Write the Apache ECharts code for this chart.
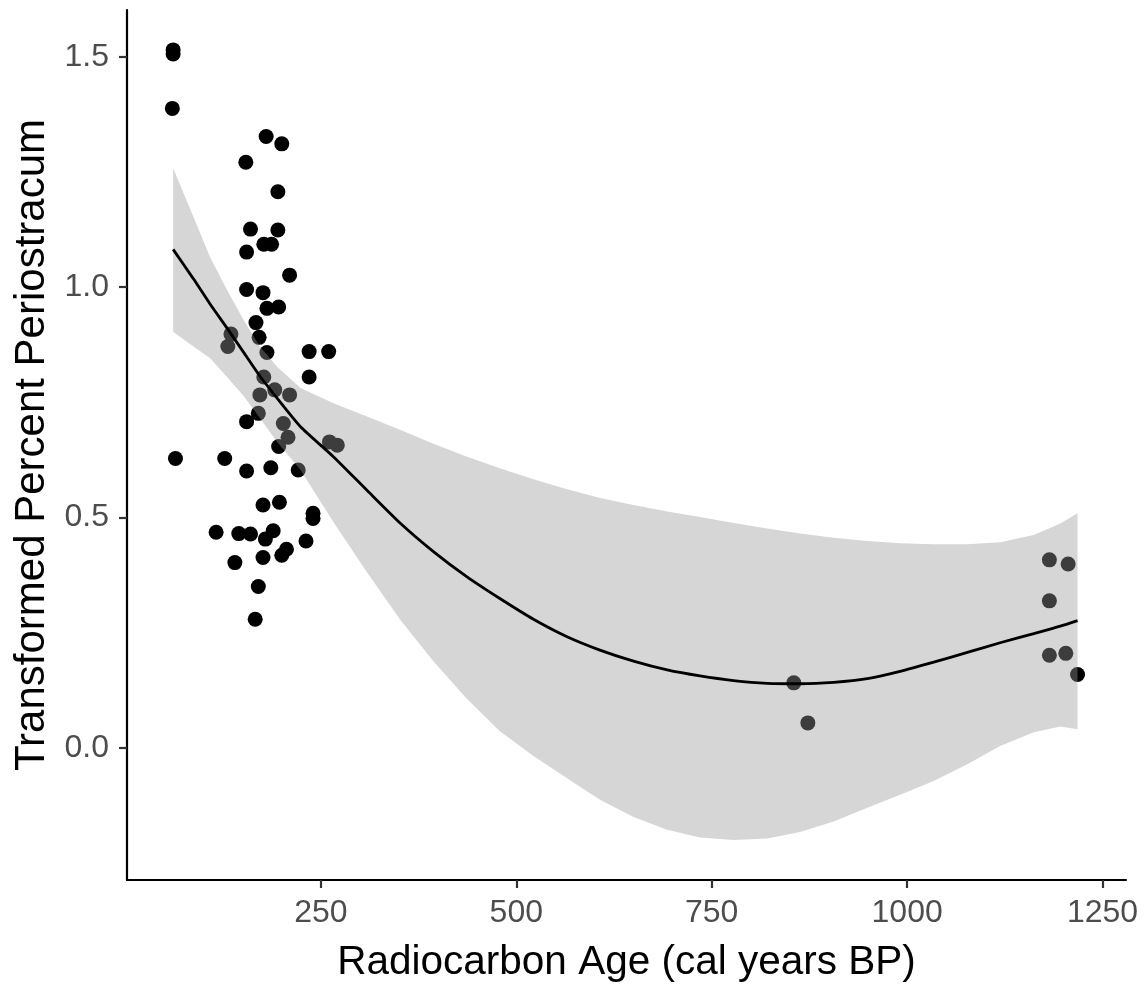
<!DOCTYPE html>
<html>
<head>
<meta charset="utf-8">
<script src="https://cdn.jsdelivr.net/npm/echarts@6/dist/echarts.min.js"></script>
<style>
html,body{margin:0;padding:0;background:#fff;}
#chart{width:1147px;height:985px;}
</style>
</head>
<body>
<div id="chart"></div>
<script>
// Observed points: radiocarbon age (x) and transformed percent periostracum (y)
var pointAge = [61,61,60,64,180,200,154,195,160,195,177,187,155,210,155,176,181,196,167,171,135,131,181,235,260,235,177,172,191,210,170,155,202,208,261,271,196,127,155,186,221,176,197,240,240,116,145,160,189,179,176,231,206,200,140,170,166,1182,1206,1182,1182,1203,1218,855,873];
var pointValue = [1.515,1.506,1.388,0.628,1.327,1.311,1.271,1.207,1.126,1.124,1.093,1.093,1.076,1.026,0.995,0.988,0.954,0.957,0.923,0.891,0.898,0.871,0.858,0.860,0.860,0.805,0.805,0.766,0.777,0.766,0.726,0.708,0.704,0.674,0.664,0.657,0.654,0.628,0.601,0.608,0.603,0.527,0.533,0.509,0.498,0.468,0.465,0.464,0.471,0.453,0.413,0.449,0.431,0.418,0.402,0.350,0.279,0.408,0.399,0.319,0.201,0.205,0.159,0.141,0.054];

// Smooth fit and confidence band, sampled along x
var fitAge = [61,87,108,130,151,172,194,224,266,309,352,394,437,479,522,565,607,650,693,735,778,821,863,906,949,991,1034,1077,1119,1162,1196,1218];
var fitValue = [1.082,1.018,0.964,0.911,0.859,0.807,0.759,0.697,0.632,0.559,0.487,0.426,0.371,0.324,0.279,0.241,0.212,0.188,0.169,0.156,0.146,0.140,0.139,0.142,0.150,0.166,0.186,0.207,0.228,0.248,0.264,0.276];
var bandUpper = [1.258,1.153,1.066,0.994,0.929,0.871,0.827,0.781,0.748,0.719,0.690,0.660,0.632,0.607,0.583,0.561,0.542,0.527,0.513,0.501,0.488,0.476,0.465,0.456,0.449,0.444,0.442,0.442,0.446,0.462,0.487,0.509];
var bandLower = [0.903,0.871,0.846,0.805,0.764,0.716,0.664,0.603,0.490,0.381,0.277,0.188,0.106,0.036,-0.018,-0.066,-0.113,-0.150,-0.178,-0.195,-0.200,-0.197,-0.183,-0.160,-0.130,-0.102,-0.072,-0.036,0.004,0.034,0.046,0.040];

var xTicks = [250,500,750,1000,1250];
var yTicks = [0,0.5,1.0,1.5];

var FONT = "'Liberation Sans', Arial, sans-serif";

var scatterData = pointAge.map(function(a,i){return [a, pointValue[i]];});
var fitData = fitAge.map(function(a,i){return [a, fitValue[i]];});

var chart = echarts.init(document.getElementById('chart'), null, {renderer:'canvas'});
chart.setOption({
  animation:false,
  backgroundColor:'#ffffff',
  grid:{left:127, top:10, right:21, bottom:105, containLabel:false, outerBoundsMode:'none'},
  xAxis:{
    type:'value', min:2, max:1280,
    name:'Radiocarbon Age (cal years BP)', nameLocation:'middle', nameGap:62,
    nameTextStyle:{fontFamily:FONT, fontSize:40.5, color:'#000'},
    axisLine:{show:true, onZero:false, lineStyle:{color:'#000', width:2.2}},
    axisTick:{show:true, length:8, customValues:xTicks, lineStyle:{color:'#333', width:2.2}},
    axisLabel:{customValues:xTicks, fontFamily:FONT, fontSize:32, color:'#4D4D4D', margin:17,
      formatter:function(v){return String(v);}},
    splitLine:{show:false}
  },
  yAxis:{
    type:'value', min:-0.287, max:1.6016,
    name:'Transformed Percent Periostracum', nameLocation:'middle', nameGap:72, nameRotate:90,
    nameTextStyle:{fontFamily:FONT, fontSize:42, color:'#000'},
    axisLine:{show:true, onZero:false, lineStyle:{color:'#000', width:2.2}},
    axisTick:{show:true, length:8, customValues:yTicks, lineStyle:{color:'#333', width:2.2}},
    axisLabel:{customValues:yTicks, fontFamily:FONT, fontSize:32, color:'#4D4D4D', margin:18,
      formatter:function(v){return v.toFixed(1);}},
    splitLine:{show:false}
  },
  series:[
    {
      type:'scatter', z:1, data:scatterData, symbol:'circle', symbolSize:15,
      itemStyle:{color:'#000000', opacity:1}, silent:true
    },
    {
      type:'custom', z:2, silent:true, data:[0],
      renderItem:function(params, api){
        var pts = [];
        for (var i=0;i<fitAge.length;i++) pts.push(api.coord([fitAge[i], bandUpper[i]]));
        for (var j=fitAge.length-1;j>=0;j--) pts.push(api.coord([fitAge[j], bandLower[j]]));
        return {type:'polygon', shape:{points:pts}, style:{fill:'rgba(153,153,153,0.4)', stroke:null}};
      }
    },
    {
      type:'line', z:3, data:fitData, showSymbol:false, smooth:0.2, silent:true,
      lineStyle:{color:'#000', width:2.8}
    }
  ]
});
</script>
</body>
</html>
